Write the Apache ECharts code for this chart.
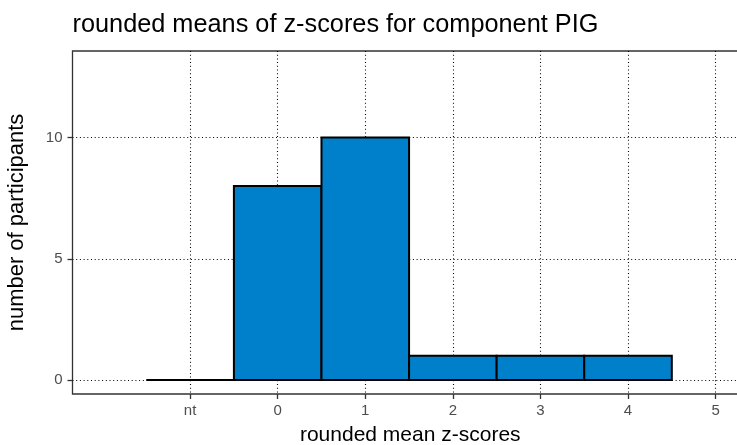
<!DOCTYPE html>
<html>
<head>
<meta charset="utf-8">
<script src="https://cdn.jsdelivr.net/npm/echarts@6/dist/echarts.min.js"></script>
<style>html,body{margin:0;padding:0;background:#fff}#c{width:737px;height:445px}</style>
</head>
<body>
<div id="c"></div>
<script>
const categories = ["nt", "0", "1", "2", "3", "4", "5"];
const counts = [0, 8, 10, 1, 1, 1];
const yTicks = [0, 5, 10];

const chart = echarts.init(document.getElementById('c'), null, {renderer: 'canvas'});
const barData = counts.map((v, i) => [i, v]);
const xTickPositions = categories.map((c, i) => i);
const font = 'Liberation Sans, Arial, sans-serif';
const gridLine = {show: true, lineStyle: {color: '#000', width: 1.1, type: [1, 2.7]}};

chart.setOption({
  animation: false,
  title: {
    text: 'rounded means of z-scores for component PIG',
    left: 67.5, top: 7.5,
    textStyle: {fontFamily: font, fontSize: 25.3, fontWeight: 'normal', color: '#000'}
  },
  grid: {left: 72.5, top: 51, right: -11, bottom: 51, show: true, borderColor: '#333', borderWidth: 1.3,
         containLabel: false, outerBoundsMode: 'none'},
  xAxis: {
    type: 'value', min: -1.343, max: 6.37,
    name: 'rounded mean z-scores', nameLocation: 'middle', nameGap: 31,
    nameTextStyle: {fontFamily: font, fontSize: 21, color: '#000'},
    axisLine: {show: false, onZero: false},
    axisTick: {show: true, customValues: xTickPositions, length: 5, lineStyle: {color: '#333', width: 1.3}},
    axisLabel: {customValues: xTickPositions, formatter: v => categories[Math.round(v)], fontFamily: font, fontSize: 15, color: '#4d4d4d', margin: 9},
    splitLine: gridLine
  },
  yAxis: {
    type: 'value', min: -0.577, max: 13.57,
    name: 'number of participants', nameLocation: 'middle', nameGap: 45,
    nameTextStyle: {fontFamily: font, fontSize: 22, color: '#000'},
    axisLine: {show: false, onZero: false},
    axisTick: {show: true, customValues: yTicks, length: 5, lineStyle: {color: '#333', width: 1.3}},
    axisLabel: {customValues: yTicks, fontFamily: font, fontSize: 15, color: '#4d4d4d', margin: 10},
    splitLine: gridLine
  },
  series: [{
    type: 'custom',
    data: barData,
    renderItem: function (params, api) {
      const x = api.value(0), y = api.value(1);
      const p1 = api.coord([x - 0.5, y]);
      const p2 = api.coord([x + 0.5, 0]);
      return {
        type: 'rect',
        shape: {x: p1[0], y: p1[1], width: p2[0] - p1[0], height: p2[1] - p1[1]},
        style: {fill: '#0080CA', stroke: '#000', lineWidth: 2}
      };
    }
  }]
});
</script>
</body>
</html>
